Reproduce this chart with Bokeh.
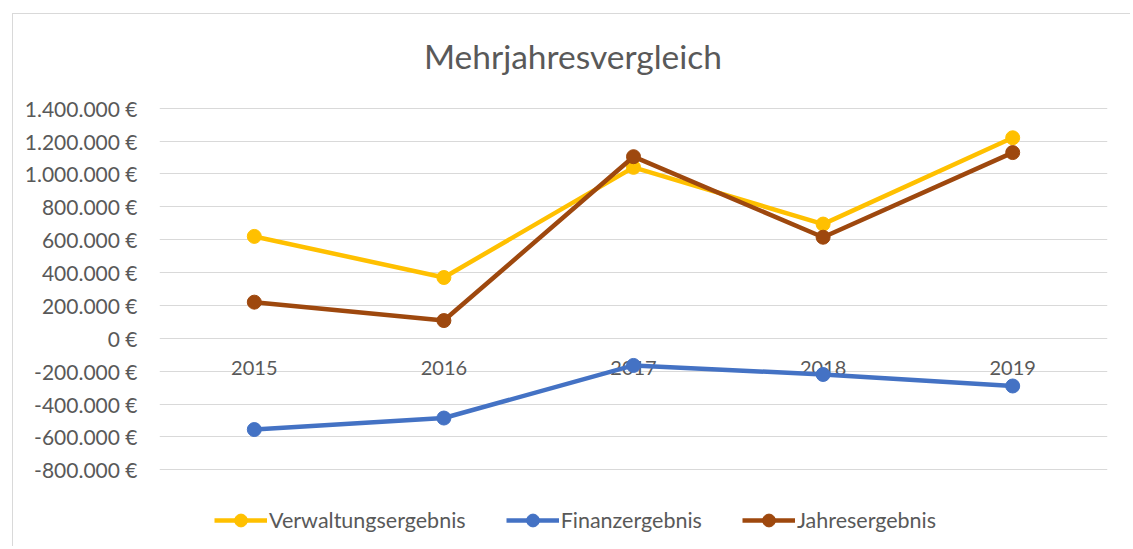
from bokeh.plotting import figure
from bokeh.models import FactorRange, Range1d, FixedTicker, Legend, LegendItem, Label
from bokeh.core.properties import value
from bokeh.embed import file_html
from bokeh.resources import INLINE

# ---- data ----
years = ["2015", "2016", "2017", "2018", "2019"]
verwaltungsergebnis = [620000, 370000, 1040000, 695000, 1220000]
finanzergebnis = [-555000, -485000, -165000, -220000, -290000]
jahresergebnis = [220000, 108000, 1105000, 615000, 1130000]
y_ticks = [-800000, -600000, -400000, -200000, 0, 200000, 400000,
           600000, 800000, 1000000, 1200000, 1400000]
y_tick_labels = ["-800.000 €", "-600.000 €", "-400.000 €", "-200.000 €", "0 €",
                 "200.000 €", "400.000 €", "600.000 €", "800.000 €",
                 "1.000.000 €", "1.200.000 €", "1.400.000 €"]
series_names = ["Verwaltungsergebnis", "Finanzergebnis", "Jahresergebnis"]
title_text = "Mehrjahresvergleich"

# ---- style ----
FONT = "Lato"
TXT = "#595959"
GRID = "#D9D9D9"
colors = ["#FFC000", "#4472C4", "#9E480E"]

# the plotting frame covers the whole chart area (title and legend live
# inside it); the visible value grid spans -800.000 .. 1.400.000 only
p = figure(
    x_range=FactorRange(*years, range_padding=0),
    y_range=Range1d(-1272600, 1970000),
    width=1118, height=533,
    output_backend="svg", toolbar_location=None,
    min_border_left=146, min_border_right=24,
    min_border_top=0, min_border_bottom=0,
)
p.margin = (13, 0, 0, 12)
p.styles = {"border-top": "1px solid #D9D9D9", "border-left": "1px solid #D9D9D9"}
p.outline_line_color = None
p.background_fill_color = "white"
p.border_fill_color = "white"
p.title.text = ""

# title
p.add_layout(Label(
    x=413.5, y=492, x_units="screen", y_units="screen", text=title_text,
    text_align="center", text_baseline="alphabetic", text_font=FONT,
    text_font_size="33.5px", text_color=TXT,
))

# axes
p.xaxis.visible = False
p.xgrid.grid_line_color = None
p.ygrid.grid_line_color = GRID
p.ygrid.grid_line_width = 1.2
p.yaxis.ticker = FixedTicker(ticks=y_ticks)
p.yaxis.major_label_overrides = {t: l for t, l in zip(y_ticks, y_tick_labels)}
p.yaxis.axis_line_color = None
p.yaxis.major_tick_line_color = None
p.yaxis.minor_tick_line_color = None
p.yaxis.major_label_standoff = 16
p.yaxis.major_label_text_font = FONT
p.yaxis.major_label_text_font_size = "21px"
p.yaxis.major_label_text_color = TXT

# category labels sitting just below the zero line (Excel style)
p.text(x=years, y=[0] * len(years), text=years, text_align="center",
       text_baseline="middle", y_offset=30, text_font=value(FONT),
       text_font_size="20px", text_color=TXT)

items = []
for name, vals, c in zip(series_names,
                         [verwaltungsergebnis, finanzergebnis, jahresergebnis],
                         colors):
    l = p.line(years, vals, line_width=4.5, line_color=c)
    s = p.scatter(years, vals, size=14, fill_color=c, line_color=c)
    items.append(LegendItem(label=name, renderers=[l, s]))

legend = Legend(
    items=items, orientation="horizontal", location=(55, 11),
    glyph_width=53, glyph_height=32, label_standoff=2, spacing=40,
    padding=0, margin=0, border_line_color=None, background_fill_alpha=0,
    label_text_font=FONT, label_text_font_size="21.5px", label_text_color=TXT,
)
p.add_layout(legend, "center")

open("out.html", "w").write(file_html(p, INLINE))
